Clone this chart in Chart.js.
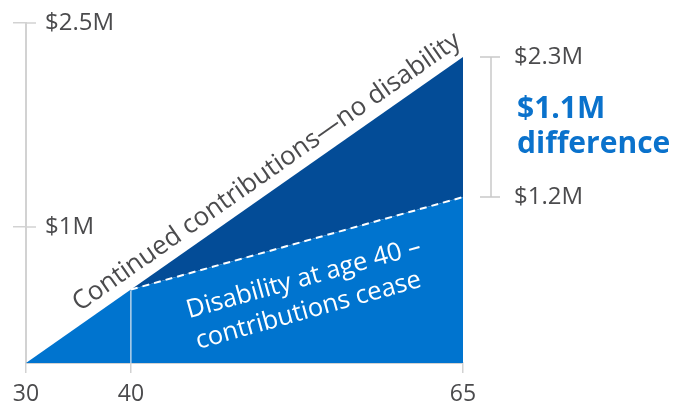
<!DOCTYPE html>
<html>
<head>
<meta charset="utf-8">
<script src="https://cdn.jsdelivr.net/npm/chart.js@4/dist/chart.umd.min.js"></script>
<style>
    html, body { margin: 0; padding: 0; background: #fff; }
    #wrap { width: 676px; height: 406px; }
</style>
</head>
<body>
<div id="wrap"><canvas id="plot-savings"></canvas></div>
<script>
// ages and savings ($M)
let ages = [30, 40, 65];
let continuedValues = [0, 0.54, 2.25];
let disabilityValues = [0, 0.54, 1.22];
let ageTicks = [30, 40, 65];
let moneyTicks = [1, 2.5];
let disabilityAge = 40;

// printed amounts on the right
let endLabels = ["$2.3M", "$1.2M"];
let diffLabel = ["$1.1M", "difference"];

let upperLabel = "Continued contributions\u2014no disability";
let lowerLabel = ["Disability at age 40 \u2013", "contributions cease"];

let grayText = "#4b4b4d";
let axisGray = "#d2d2d2";
let fontFam = "'Open Sans', sans-serif";

// the picture squeezes the years before 40, so the age axis is piecewise
let ageStops = [30, 40, 65];
let ageStopPos = [0, 0.24, 1];

class AgeScale extends Chart.LinearScale {
    getPixelForValue(value) {
        let d = 0;
        for (let i = 0; i < ageStops.length - 1; i++) {
            if (value <= ageStops[i + 1] || i === ageStops.length - 2) {
                let t = (value - ageStops[i]) / (ageStops[i + 1] - ageStops[i]);
                d = ageStopPos[i] + t * (ageStopPos[i + 1] - ageStopPos[i]);
                break;
            }
        }
        return this.getPixelForDecimal(d);
    }
    getValueForPixel(pixel) {
        let d = this.getDecimalForPixel(pixel);
        for (let i = 0; i < ageStops.length - 1; i++) {
            if (d <= ageStopPos[i + 1] || i === ageStops.length - 2) {
                let t = (d - ageStopPos[i]) / (ageStopPos[i + 1] - ageStopPos[i]);
                return ageStops[i] + t * (ageStops[i + 1] - ageStops[i]);
            }
        }
        return ageStops[0];
    }
}
AgeScale.id = 'age';
AgeScale.defaults = Chart.LinearScale.defaults;
Chart.register(AgeScale);

function money(v) {
    return '$' + v + 'M';
}

var annotations = {
    id: 'annotations',
    afterDatasetsDraw: function(chart) {
        var ctx = chart.ctx;
        var x = chart.scales.x;
        var y = chart.scales.y;
        var area = chart.chartArea;
        var last = ages.length - 1;
        var k = ages.indexOf(disabilityAge);

        ctx.save();

        // white line down from the disability point
        var xd = x.getPixelForValue(disabilityAge);
        ctx.strokeStyle = "rgba(220, 230, 240, 0.8)";
        ctx.lineWidth = 1.5;
        ctx.beginPath();
        ctx.moveTo(xd, y.getPixelForValue(disabilityValues[k]) + 1);
        ctx.lineTo(xd, y.getPixelForValue(0));
        ctx.stroke();

        // inner stubs of the y ticks
        ctx.strokeStyle = axisGray;
        moneyTicks.forEach(function(v) {
            var py = y.getPixelForValue(v);
            ctx.beginPath();
            ctx.moveTo(area.left, py);
            ctx.lineTo(area.left + 10, py);
            ctx.stroke();
        });

        // label along the upper line
        var x0 = x.getPixelForValue(ages[0]), y0 = y.getPixelForValue(continuedValues[0]);
        var x2 = x.getPixelForValue(ages[last]), y2 = y.getPixelForValue(continuedValues[last]);
        var ang = Math.atan2(y2 - y0, x2 - x0);
        ctx.save();
        ctx.translate(x0 + (x2 - x0) * 0.575, y0 + (y2 - y0) * 0.575);
        ctx.rotate(ang);
        ctx.font = "26px " + fontFam;
        ctx.fillStyle = grayText;
        ctx.textAlign = 'center';
        ctx.textBaseline = 'alphabetic';
        ctx.fillText(upperLabel, 0, -11);
        ctx.restore();

        // label under the dashed line
        var xa = x.getPixelForValue(ages[k]), ya = y.getPixelForValue(disabilityValues[k]);
        var xb = x.getPixelForValue(ages[last]), yb = y.getPixelForValue(disabilityValues[last]);
        var ang2 = Math.atan2(yb - ya, xb - xa);
        ctx.save();
        ctx.translate((xa + xb) / 2, (ya + yb) / 2);
        ctx.rotate(ang2);
        ctx.font = "25.5px " + fontFam;
        ctx.fillStyle = "#ffffff";
        ctx.textAlign = 'center';
        ctx.textBaseline = 'middle';
        ctx.fillText(lowerLabel[0], -3, 36);
        ctx.fillText(lowerLabel[1], -7, 68);
        ctx.restore();

        // bracket on the right
        var yt = y.getPixelForValue(continuedValues[last]);
        var yl = y.getPixelForValue(disabilityValues[last]);
        var bx = area.right + 28;
        ctx.strokeStyle = "#c9c9c9";
        ctx.lineWidth = 1.5;
        ctx.beginPath();
        ctx.moveTo(bx, yt);
        ctx.lineTo(bx, yl);
        ctx.moveTo(bx - 11, yt);
        ctx.lineTo(bx + 9, yt);
        ctx.moveTo(bx - 11, yl);
        ctx.lineTo(bx + 9, yl);
        ctx.stroke();

        ctx.font = "24px " + fontFam;
        ctx.fillStyle = grayText;
        ctx.textAlign = 'left';
        ctx.textBaseline = 'middle';
        ctx.fillText(endLabels[0], bx + 23, yt);
        ctx.fillText(endLabels[1], bx + 23, yl);

        var mid = (yt + yl) / 2;
        ctx.font = "bold 30px " + fontFam;
        ctx.fillStyle = "#0a72cc";
        ctx.fillText(diffLabel[0], bx + 26, mid - 18);
        ctx.fillText(diffLabel[1], bx + 26, mid + 17);

        ctx.restore();
    }
};

var ctx = document.getElementById('plot-savings').getContext('2d');

var chart = new Chart(ctx, {
    type: 'line',
    data: {
        datasets: [{
            label: "Disability at age 40",
            data: ages.map(function(a, i) { return { x: a, y: disabilityValues[i] }; }),
            backgroundColor: "#0074cf",
            borderColor: "#ffffff",
            borderWidth: 2,
            pointRadius: 0,
            tension: 0,
            fill: 'origin',
            segment: {
                borderColor: function(c) { return c.p0DataIndex < 1 ? 'rgba(0,0,0,0)' : '#ffffff'; },
                borderDash: function(c) { return c.p0DataIndex < 1 ? undefined : [7, 5]; }
            }
        }, {
            label: "Continued contributions",
            data: ages.map(function(a, i) { return { x: a, y: continuedValues[i] }; }),
            backgroundColor: "#034c97",
            borderWidth: 0,
            pointRadius: 0,
            tension: 0,
            fill: '-1'
        }]
    },
    options: {
        responsive: true,
        maintainAspectRatio: false,
        animation: false,
        layout: {
            padding: { left: 13, right: 213, top: 23, bottom: 0 }
        },
        plugins: {
            legend: { display: false },
            tooltip: { enabled: false }
        },
        scales: {
            x: {
                type: 'age',
                min: ageTicks[0],
                max: ageTicks[ageTicks.length - 1],
                afterBuildTicks: function(scale) {
                    scale.ticks = ageTicks.map(function(v) { return { value: v }; });
                },
                afterFit: function(scale) {
                    scale.height = 43;
                    scale.paddingLeft = 0;
                    scale.paddingRight = 0;
                },
                grid: {
                    drawOnChartArea: false,
                    color: axisGray,
                    lineWidth: 1.5,
                    tickLength: 10
                },
                border: { color: axisGray, width: 2 },
                ticks: {
                    autoSkip: false,
                    maxRotation: 0,
                    padding: 8,
                    color: grayText,
                    font: { family: fontFam, size: 23 },
                    callback: function(value) { return value; }
                }
            },
            y: {
                min: 0,
                max: 2.5,
                afterBuildTicks: function(scale) {
                    scale.ticks = moneyTicks.map(function(v) { return { value: v }; });
                },
                afterFit: function(scale) {
                    scale.width = 13;
                    scale.paddingTop = 0;
                    scale.paddingBottom = 0;
                },
                grid: {
                    drawOnChartArea: false,
                    color: axisGray,
                    lineWidth: 1.5,
                    tickLength: 13
                },
                border: { color: axisGray, width: 2 },
                ticks: {
                    mirror: true,
                    padding: 19,
                    color: grayText,
                    font: { family: fontFam, size: 24 },
                    callback: function(value) { return money(value); }
                }
            }
        }
    },
    plugins: [annotations]
});
</script>
</body>
</html>
